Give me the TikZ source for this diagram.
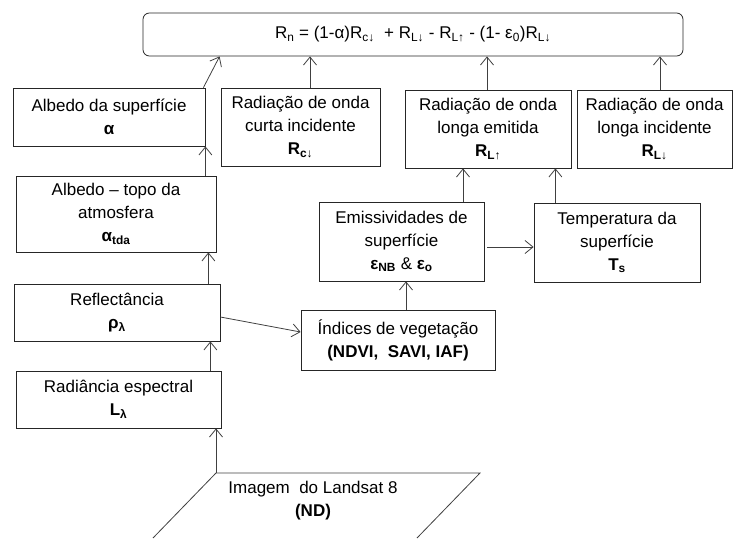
\documentclass[tikz,border=0pt]{standalone}
\usepackage{fontspec}
\setmainfont{Liberation Sans}
\usepackage{tikz}
\usetikzlibrary{arrows.meta}
\newcommand{\sbx}[1]{\textsubscript{#1}}

\begin{document}
\begin{tikzpicture}[x=1pt, y=-1pt,
  bloco/.style={draw=black!85, line width=0.8pt, rectangle, align=center, inner sep=0pt, font=\fontsize{17}{23}\selectfont},
  seta/.style={draw=black!75, line width=0.8pt, -{Straight Barb[length=8pt,width=13pt]}}]
\useasboundingbox (0,0) rectangle (733,538);

\node [bloco, rounded corners=1.2ex, minimum width=540pt, minimum height=43pt] (saldo) at (413,34.5) {R\sbx{n} = (1-α)R\sbx{c↓}\ \ + R\sbx{L↓} - R\sbx{L↑} - (1- ε\sbx{0})R\sbx{L↓}};

\node [bloco, minimum width=192pt, minimum height=58pt] (albsup) at (109,117) {Albedo da superfície\\ \textbf{α}};
\node [bloco, minimum width=159pt, minimum height=78pt] (rcurta) at (300.5,127) {Radiação de onda\\ curta incidente\\ \textbf{R\sbx{c↓}}};
\node [bloco, minimum width=166pt, minimum height=78pt] (rlemit) at (488,129) {Radiação de onda\\ longa emitida\\ \textbf{R\sbx{L↑}}};
\node [bloco, minimum width=155pt, minimum height=78pt] (rlinc) at (654.5,129) {Radiação de onda\\ longa incidente\\ \textbf{R\sbx{L↓}}};

\node [bloco, minimum width=200pt, minimum height=76pt] (albtoa) at (116,214) {Albedo – topo da\\ atmosfera\\ \textbf{α\sbx{tda}}};
\node [bloco, minimum width=165pt, minimum height=79pt] (emis) at (401.5,241.5) {Emissividades de\\ superfície\\ \textbf{ε\sbx{NB}} \& \textbf{ε\sbx{o}}};
\node [bloco, minimum width=166pt, minimum height=79pt] (temp) at (617,242.5) {Temperatura da\\ superfície\\ \textbf{T\sbx{s}}};

\node [bloco, minimum width=206pt, minimum height=57pt] (refl) at (117,312.5) {Reflectância\\ \textbf{ρ\sbx{λ}}};
\node [bloco, minimum width=194pt, minimum height=60pt] (indveg) at (398,340) {Índices de vegetação\\ \textbf{(NDVI, \ SAVI, IAF)}};
\node [bloco, minimum width=205pt, minimum height=57pt] (radesp) at (118.5,399.5) {Radiância espectral\\ \textbf{L\sbx{λ}}};

\draw [draw=black!75, line width=0.8pt] (153,538) -- (216,473) coordinate (imgcanto) -- (480,473) -- (417,538);
\node [align=center, inner sep=0pt, font=\fontsize{17}{23}\selectfont] (img) at (313,501) {Imagem \ do Landsat 8\\ \textbf{(ND)}};

\draw [seta] (imgcanto) -- (imgcanto |- radesp.south);
\draw [seta] ([xshift=-11pt]radesp.north east) -- ([xshift=-11pt]radesp.north east |- refl.south);
\draw [seta] ([xshift=-12pt]refl.north east) -- ([xshift=-12pt]refl.north east |- albtoa.south);
\draw [seta] ([xshift=-11pt]albtoa.north east) -- ([xshift=-11pt]albtoa.north east |- albsup.south);
\draw [seta] ([xshift=-2pt]albsup.north east) -- ([xshift=77pt]saldo.south west);
\draw [seta] ([xshift=9.5pt]rcurta.north) -- ([xshift=9.5pt]rcurta.north |- saldo.south);
\draw [seta] ([xshift=-1pt]rlemit.north) -- ([xshift=-1pt]rlemit.north |- saldo.south);
\draw [seta] ([xshift=5.5pt]rlinc.north) -- ([xshift=5.5pt]rlinc.north |- saldo.south);
\draw [seta] ([xshift=-25pt]rlemit.south |- emis.north) -- ([xshift=-25pt]rlemit.south);
\draw [seta] ([xshift=-16pt]rlemit.south east |- temp.north) -- ([xshift=-16pt]rlemit.south east);
\draw [seta, shorten <=3pt] ([yshift=-5.5pt]emis.east) -- ([yshift=-5.5pt]emis.east -| temp.west);
\draw [seta] ([xshift=8pt]indveg.north) -- ([xshift=8pt]indveg.north |- emis.south);
\draw [seta] ([yshift=-4.5pt]refl.east) -- ([yshift=8pt]indveg.west);
\end{tikzpicture}
\end{document}
